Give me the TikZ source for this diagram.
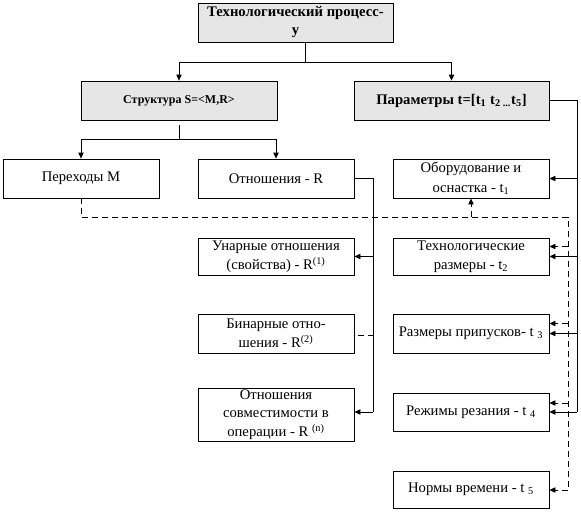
\documentclass[tikz,border=0pt]{standalone}
\usepackage{fontspec}
\setmainfont{Liberation Serif}
\usetikzlibrary{arrows.meta,calc}
\definecolor{boxgray}{HTML}{E6E6E6}
\begin{document}
\begin{tikzpicture}[x=0.75pt,y=-0.75pt,
  box/.style={draw, line width=0.6pt, align=center, inner sep=1pt, fill=white,
    font=\fontsize{11}{14.5}\selectfont},
  gbox/.style={box, fill=boxgray, font=\fontsize{11}{13.5}\selectfont\bfseries},
  ln/.style={line width=0.6pt},
  arr/.style={ln, -{Triangle[length=4.5pt,width=4pt]}},
  dsh/.style={ln, dash pattern=on 4.5pt off 3pt},
  darr/.style={arr, dash pattern=on 4.5pt off 3pt}]
\useasboundingbox (0,0) rectangle (581,512);

% nodes
\node[gbox, minimum width=146.25pt, minimum height=29.25pt] (top) at (295.5,22.5)
  {Технологический процесс-\\у};
\node[gbox, minimum width=147pt, minimum height=29.25pt, font=\fontsize{9}{11}\selectfont\bfseries] (str) at (179,100.5)
  {Структура S=<M,R>};
\node[gbox, minimum width=146.25pt, minimum height=29.25pt] (par) at (451.5,100.5)
  {Параметры t=[t\textsubscript{1} t\textsubscript{2 ...}t\textsubscript{5}]};

\node[box, minimum width=117pt, minimum height=29.25pt] (per) at (81,178.5) {Переходы М};
\node[box, minimum width=117pt, minimum height=29.25pt] (otn) at (276,178.5) {Отношения - R};
\node[box, minimum width=117pt, minimum height=29.25pt] (obo) at (471,178.5)
  {Оборудование и\\оснастка - t\textsubscript{1}};

\node[box, minimum width=117pt, minimum height=27.75pt] (un) at (276,256.5)
  {Унарные отношения\\(свойства) - R\textsuperscript{(1)}};
\node[box, minimum width=117pt, minimum height=29.25pt] (bin) at (276,333.5)
  {Бинарные отно-\\шения - R\textsuperscript{(2)}};
\node[box, minimum width=117pt, minimum height=39.75pt, font=\fontsize{11}{14}\selectfont] (sov) at (276,414.5)
  {Отношения\\совместимости в\\операции - R \textsuperscript{(n)}};

\node[box, minimum width=117pt, minimum height=27.75pt] (teh) at (471,256.5)
  {Технологические\\размеры - t\textsubscript{2}};
\node[box, minimum width=117pt, minimum height=29.25pt] (rip) at (471,333.5)
  {Размеры припусков- t \textsubscript{3}};
\node[box, minimum width=117pt, minimum height=28.5pt] (rez) at (471,412)
  {Режимы резания - t \textsubscript{4}};
\node[box, minimum width=117pt, minimum height=27.75pt] (nor) at (471,489.5)
  {Нормы времени - t \textsubscript{5}};

% top tree
\coordinate (j1) at (305,62);
\draw[ln] (top.south -| j1) -- (j1);
\draw[arr] (j1) -| (str.north);
\draw[arr] (j1) -| (par.north);

\coordinate (j2) at (179,139);
\draw[ln] ($(str.south)+(0,5)$) -- (j2);
\draw[arr] (j2) -| (per.north);
\draw[arr] (j2) -| (otn.north);

% relations line
\coordinate (rt) at (373,178.5);
\coordinate (rb) at (373,412);
\draw[ln] (otn.east) -- (rt) -- (rb);
\draw[arr] (rb) -- (rb -| sov.east);
\draw[arr] (rt |- un.east) -- (un.east);
\draw[dsh] ($(bin.east)+(4,1.5)$) -- ($(rt |- bin.east)+(0,1.5)$);

% parameters line
\coordinate (pb) at (577,412);
\draw[ln] (par.east) -| (pb);
\draw[arr] (pb |- obo.east) -- (obo.east);
\draw[arr] (pb |- teh.east) -- (teh.east);
\draw[arr] (pb |- rip.east) -- (rip.east);
\draw[arr] (pb) -- (pb -| rez.east);

% dashed links
\coordinate (d1) at (81,217);
\coordinate (d2) at (568,217);
\coordinate (d3) at (568,490);
\draw[dsh] (per.south) -- (d1) -- (d2) -- (d3);
\draw[darr] (d1 -| obo.south) -- (obo.south);
\draw[darr] ($(d2 |- teh.east)+(0,-10)$) -- ($(teh.east)+(0,-10)$);
\draw[darr] ($(d2 |- rip.east)+(0,-10)$) -- ($(rip.east)+(0,-10)$);
\draw[darr] ($(d2 |- rez.east)+(0,-9)$) -- ($(rez.east)+(0,-9)$);
\draw[darr] (d3) -- (d3 -| nor.east);
\end{tikzpicture}
\end{document}
